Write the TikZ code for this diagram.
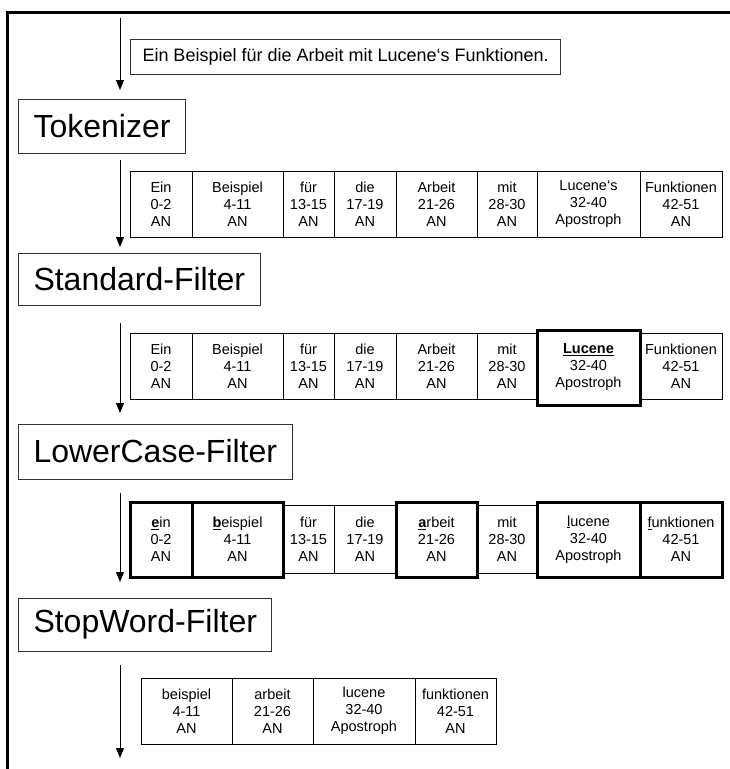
\documentclass[tikz,border=0pt]{standalone}
\usepackage{fontspec}
\setmainfont{Liberation Sans}
\usetikzlibrary{arrows.meta}
\begin{document}
\begin{tikzpicture}[x=1pt,y=-1pt]

      \tikzset{cell/.style={draw, inner sep=0pt, align=center, line width=0.8pt, font=\fontsize{14.5}{17}\selectfont},
               marked/.style={cell, line width=3pt},
               stage/.style={draw=black!80, line width=1pt, anchor=west, inner xsep=15pt, font=\fontsize{32}{37}\selectfont},
               flow/.style={-{Triangle[width=8pt,length=10pt]}, line width=1pt}}
      \useasboundingbox (0,0) rectangle (730,769);
%% Frame
      	\draw[line width=3pt] (7,769) -- (7,12) -- (730,12);
%% Stages
      	\node[draw=black!80, line width=1pt, anchor=west, inner xsep=12pt, minimum height=35pt, font=\fontsize{18}{21}\selectfont] (sentence) at (130,56.5) {Ein Beispiel für die Arbeit mit Lucene‘s Funktionen.};
      	\node[stage, minimum height=54pt] (tokenizer) at (18,126) {Tokenizer};
      	\node[stage, minimum height=52pt] (standard) at (18,279) {Standard-Filter};
      	\node[stage, minimum height=55pt] (lowercase) at (18,451.5) {LowerCase-Filter};
      	\node[stage, minimum height=53pt] (stopword) at (18,624.5) {StopWord-Filter};
%% Tokens after Tokenizer
      	\node[cell, minimum width=62pt, minimum height=66pt] (ta1) at (161,204) {Ein\\0-2\\AN};
      	\node[cell, minimum width=91pt, minimum height=66pt] (ta2) at (237.5,204) {Beispiel\\4-11\\AN};
      	\node[cell, minimum width=51pt, minimum height=66pt] (ta3) at (308.5,204) {für\\13-15\\AN};
      	\node[cell, minimum width=62pt, minimum height=66pt] (ta4) at (365,204) {die\\17-19\\AN};
      	\node[cell, minimum width=81pt, minimum height=66pt] (ta5) at (436.5,204) {Arbeit\\21-26\\AN};
      	\node[cell, minimum width=60pt, minimum height=66pt] (ta6) at (507,204) {mit\\28-30\\AN};
      	\node[cell, minimum width=103pt, minimum height=66pt] (ta7) at (588.5,204) {Lucene‘s\\32-40\\Apostroph};
      	\node[cell, minimum width=82pt, minimum height=66pt] (ta8) at (681,204) {Funktionen\\42-51\\AN};
%% Tokens after Standard-Filter
      	\node[cell, minimum width=62pt, minimum height=66pt] (tb1) at (161,366) {Ein\\0-2\\AN};
      	\node[cell, minimum width=91pt, minimum height=66pt] (tb2) at (237.5,366) {Beispiel\\4-11\\AN};
      	\node[cell, minimum width=51pt, minimum height=66pt] (tb3) at (308.5,366) {für\\13-15\\AN};
      	\node[cell, minimum width=62pt, minimum height=66pt] (tb4) at (365,366) {die\\17-19\\AN};
      	\node[cell, minimum width=81pt, minimum height=66pt] (tb5) at (436.5,366) {Arbeit\\21-26\\AN};
      	\node[cell, minimum width=60pt, minimum height=66pt] (tb6) at (507,366) {mit\\28-30\\AN};
      	\node[cell, minimum width=82pt, minimum height=66pt] (tb8) at (681,366) {Funktionen\\42-51\\AN};
      	\node[marked, minimum width=103pt, minimum height=75pt] (tb7) at (588.5,367.5) {\underline{\textbf{Lucene}}\\32-40\\Apostroph};
%% Tokens after LowerCase-Filter
      	\node[cell, minimum width=51pt, minimum height=68pt] (tc3) at (308.5,539) {für\\13-15\\AN};
      	\node[cell, minimum width=62pt, minimum height=68pt] (tc4) at (365,539) {die\\17-19\\AN};
      	\node[cell, minimum width=60pt, minimum height=68pt] (tc6) at (507,539) {mit\\28-30\\AN};
      	\node[marked, minimum width=62pt, minimum height=75pt] (tc1) at (161,539.5) {\underline{\textbf{e}}in\\0-2\\AN};
      	\node[marked, minimum width=91pt, minimum height=75pt] (tc2) at (237.5,539.5) {\underline{\textbf{b}}eispiel\\4-11\\AN};
      	\node[marked, minimum width=81pt, minimum height=75pt] (tc5) at (436.5,539.5) {\underline{\textbf{a}}rbeit\\21-26\\AN};
      	\node[marked, minimum width=103pt, minimum height=75pt] (tc7) at (588.5,539.5) {\underline{l}ucene\\32-40\\Apostroph};
      	\node[marked, minimum width=82pt, minimum height=75pt] (tc8) at (681,539.5) {\underline{f}unktionen\\42-51\\AN};
%% Tokens after StopWord-Filter
      	\node[cell, minimum width=91pt, minimum height=66pt] (td1) at (186.5,711) {beispiel\\4-11\\AN};
      	\node[cell, minimum width=81pt, minimum height=66pt] (td2) at (272.5,711) {arbeit\\21-26\\AN};
      	\node[cell, minimum width=102pt, minimum height=66pt] (td3) at (364,711) {lucene\\32-40\\Apostroph};
      	\node[cell, minimum width=81pt, minimum height=66pt] (td4) at (455.5,711) {funktionen\\42-51\\AN};
%Arrows
      	\coordinate (a1s) at (120,18);  \coordinate (a1e) at (120,90);
      	\coordinate (a2s) at (120,160); \coordinate (a2e) at (120,247);
      	\coordinate (a3s) at (120,323); \coordinate (a3e) at (120,413);
      	\coordinate (a4s) at (120,493); \coordinate (a4e) at (120,582);
      	\coordinate (a5s) at (120,665); \coordinate (a5e) at (120,758);
		\path [flow] (a1s) edge (a1e);
		\path [flow] (a2s) edge (a2e);
		\path [flow] (a3s) edge (a3e);
		\path [flow] (a4s) edge (a4e);
		\path [flow] (a5s) edge (a5e);

	\end{tikzpicture}
\end{document}
